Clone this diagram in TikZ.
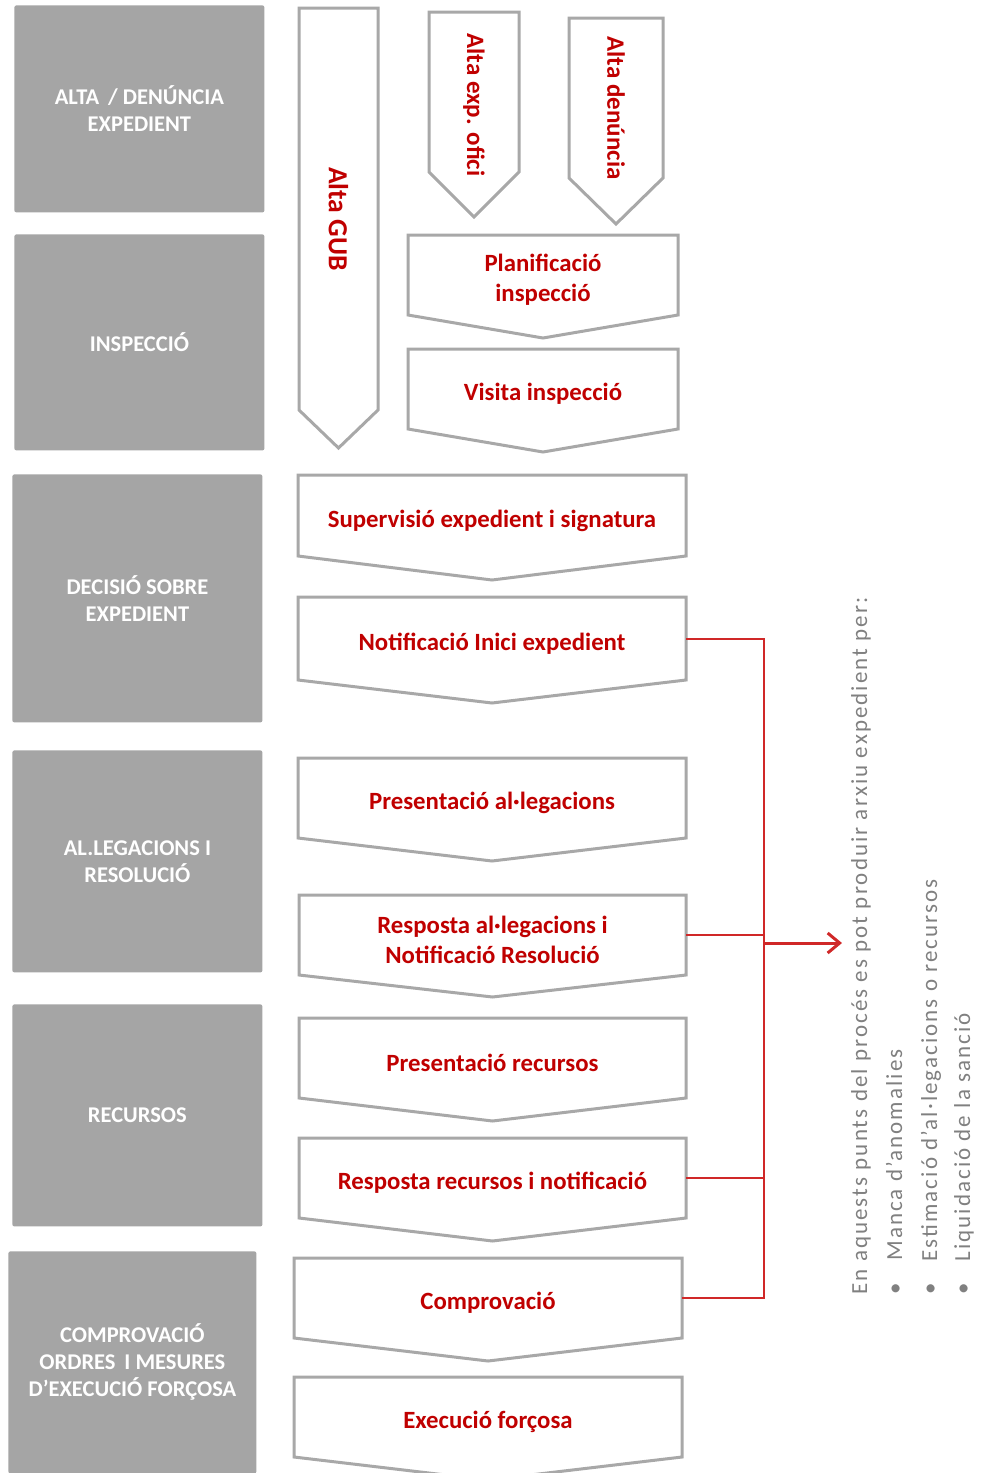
\documentclass[tikz,border=0pt]{standalone}
\usepackage{fontspec}
\setmainfont{Carlito}
\usetikzlibrary{arrows.meta}
\definecolor{boxgray}{HTML}{A5A5A5}
\definecolor{linegray}{HTML}{A8A8A8}
\definecolor{txtred}{HTML}{C00000}
\definecolor{conred}{HTML}{D02828}
\definecolor{notegray}{HTML}{808080}
\newcommand{\chevbox}[7]{%
  \draw[chevline] (#2,#4) -- (#3,#4) -- (#3,#5) -- ({(#2+#3)/2},#6) -- (#2,#5) -- cycle;
  \node[anchorbox, minimum width={(#3-#2)*0.5pt}, minimum height={(#5-#4)*0.5pt}] (#1) at ({(#2+#3)/2},{(#4+#5)/2}) {};
  \node[steptext] (#1-t) at ([yshift=-2.5pt]#1.center) {#7};
}
\newcommand{\downarrowbox}[7]{%
  \draw[chevline] (#2,#4) -- (#3,#4) -- (#3,#5) -- ({(#2+#3)/2},#6) -- (#2,#5) -- cycle;
  \node[vtext] (#1) at ({(#2+#3)/2},#7) {};
}
\begin{document}
\begin{tikzpicture}[x=0.5pt,y=-0.5pt,
  phase/.style={fill=boxgray, draw=none, rounded corners=1pt, inner sep=0pt,
    anchor=north west, text=white, align=center,
    font=\bfseries\fontsize{11.25}{13.5}\selectfont},
  chevline/.style={draw=linegray, line width=1.5pt, fill=white, line join=miter},
  anchorbox/.style={draw=none, inner sep=0pt, rectangle},
  steptext/.style={text=txtred, align=center, font=\bfseries\fontsize{12.4}{15}\selectfont},
  vtext/.style={text=txtred, rotate=-90, inner sep=0pt, font=\bfseries\fontsize{12.5}{15}\selectfont},
  conn/.style={draw=conred, line width=1pt},
  note/.style={text=notegray, rotate=90, anchor=base west, inner sep=0pt,
    font=\fontsize{11.5}{13}\selectfont\addfontfeatures{LetterSpace=9}}
]
\useasboundingbox (0,0) rectangle (982,1473);

% phase boxes
\node[phase, minimum width=125pt, minimum height=103.5pt] (ph1) at (14,5) {ALTA \,/ DENÚNCIA\\EXPEDIENT};
\node[phase, minimum width=125pt, minimum height=108pt] (ph2) at (14,234) {INSPECCIÓ};
\node[phase, minimum width=125pt, minimum height=124pt] (ph3) at (12,474) {DECISIÓ SOBRE\\EXPEDIENT};
\node[phase, minimum width=125pt, minimum height=111pt] (ph4) at (12,750) {AL.LEGACIONS I\\RESOLUCIÓ};
\node[phase, minimum width=125pt, minimum height=111pt] (ph5) at (12,1004) {RECURSOS};
\node[phase, minimum width=124pt, minimum height=111pt] (ph6) at (8,1251) {COMPROVACIÓ\\ORDRES \,I MESURES\\D’EXECUCIÓ FORÇOSA};

% vertical arrows
\downarrowbox{gub}{299}{378}{8}{410}{448}{219}
\node[vtext, font=\bfseries\fontsize{13.8}{15}\selectfont] (gub-t) at (gub) {Alta GUB};
\downarrowbox{ofici}{429}{519}{12}{172}{217}{105}
\node[vtext] (ofici-t) at (ofici) {Alta exp. ofici};
\downarrowbox{denun}{569}{663}{18}{178}{224}{108}
\node[vtext] (denun-t) at (denun) {Alta denúncia};

% chevrons
\chevbox{plan}{408}{678}{235}{315}{338}{Planificació\\inspecció}
\chevbox{visita}{408}{678}{349}{429}{452}{Visita inspecció}
\chevbox{superv}{298}{686}{475}{556}{580}{Supervisió expedient i signatura}
\chevbox{notif}{298}{686}{597}{680}{703}{Notificació Inici expedient}
\chevbox{preal}{298}{686}{758}{838}{861}{Presentació al·legacions}
\chevbox{respal}{299}{686}{895}{975}{997}{Resposta al·legacions i\\Notificació Resolució}
\chevbox{prerec}{299}{686}{1018}{1098}{1121}{Presentació recursos}
\chevbox{resrec}{299}{686}{1138}{1218}{1241}{Resposta recursos i notificació}
\chevbox{compr}{294}{682}{1258}{1338}{1361}{Comprovació}
\chevbox{exec}{294}{682}{1377}{1457}{1480}{Execució forçosa}

% connectors
\coordinate (bus) at (764,0);
\coordinate (arrend) at (842,943);
\draw[conn] (notif.east) -- (notif.east -| bus) -- (compr.east -| bus) -- (compr.east);
\draw[conn] (respal.east) -- (respal.east -| bus);
\draw[conn] (resrec.east) -- (resrec.east -| bus);
\draw[conn, line width=1.5pt, -{Straight Barb[length=6pt,width=10pt,line width=1.5pt]}] (bus |- arrend) -- (arrend);

% note
\node[note] (n1) at (867,1295) {En aquests punts del procés es pot produir arxiu expedient per:};
\node[note] (b2) at (902,1295) {•};
\node[note] (n2) at (902,1261) {Manca d’anomalies};
\node[note] (b3) at (937,1295) {•};
\node[note] (n3) at (937,1262) {Estimació d’al·legacions o recursos};
\node[note] (b4) at (970,1295) {•};
\node[note] (n4) at (970,1262) {Liquidació de la sanció};
\end{tikzpicture}
\end{document}
